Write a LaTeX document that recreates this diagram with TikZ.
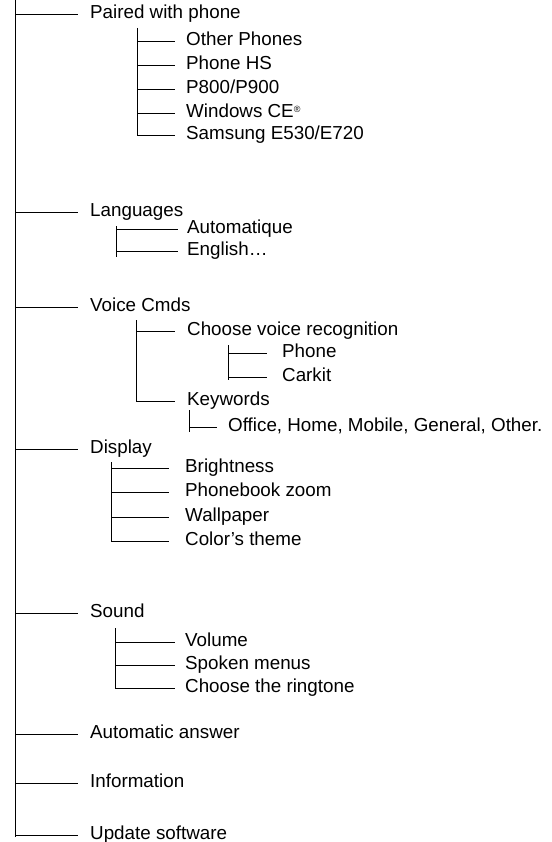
\documentclass[tikz,border=0pt]{standalone}
\usepackage{fontspec}
\setmainfont{Liberation Sans}
\usepackage{tikz}

\begin{document}
\begin{tikzpicture}[x=1pt,y=-1pt,
  item/.style={anchor=west, inner sep=0pt, text height=9pt, text depth=0pt,
               font=\fontsize{18.8}{21}\selectfont},
  wire/.style={line width=0.8pt, black}]
\useasboundingbox (0,0) rectangle (551,842);

% main menu
\coordinate (trunk) at (15.5,0);
\node [item] (paired) at (90,14) {Paired with phone};
\node [item] (languages) at (90,212) {Languages};
\node [item] (voice) at (90,307) {Voice Cmds};
\node [item] (display) at (90,449) {Display};
\node [item] (sound) at (90,613) {Sound};
\node [item] (autoans) at (90,734) {Automatic answer};
\node [item] (info) at (90,783) {Information};
\node [item] (update) at (90,835) {Update software};

\draw [wire] (trunk) -- ([yshift=-2pt]trunk |- update.west);
\foreach \n in {paired,languages,voice,display,sound,autoans,info,update}
  \draw [wire] (trunk |- \n.west) -- ([xshift=-12pt]\n.west);

% paired with phone
\coordinate (pbar) at (137,28);
\node [item] (other) at (186,41) {Other Phones};
\node [item] (phonehs) at (186,65) {Phone HS};
\node [item] (pnine) at (186,89) {P800/P900};
\node [item] (wince) at (186,113) {Windows CE{\fontsize{9}{9}\selectfont\raisebox{5pt}{®}}};
\node [item] (samsung) at (186,135) {Samsung E530/E720};

\draw [wire] (pbar) -- (pbar |- samsung.west);
\foreach \n in {other,phonehs,pnine,wince,samsung}
  \draw [wire] (pbar |- \n.west) -- ([xshift=-11pt]\n.west);

% languages
\coordinate (lbar) at (116,226);
\node [item] (auto) at (187,229) {Automatique};
\node [item] (english) at (187,251) {English…};

\draw [wire] (lbar) -- ([yshift=-6pt]lbar |- english.west);
\foreach \n in {auto,english}
  \draw [wire] (lbar |- \n.west) -- ([xshift=-9pt]\n.west);

% voice commands
\coordinate (vbar) at (136,320);
\node [item] (recog) at (187,331) {Choose voice recognition};
\node [item] (keywords) at (187,401) {Keywords};

\draw [wire] (vbar) -- (vbar |- keywords.west);
\foreach \n in {recog,keywords}
  \draw [wire] (vbar |- \n.west) -- ([xshift=-12pt]\n.west);

\coordinate (rbar) at (228,345);
\node [item] (phone) at (282,353) {Phone};
\node [item] (carkit) at (282,377) {Carkit};

\draw [wire] (rbar) -- ([yshift=-3pt]rbar |- carkit.west);
\foreach \n in {phone,carkit}
  \draw [wire] (rbar |- \n.west) -- ([xshift=-15pt]\n.west);

\coordinate (kbar) at (189,410);
\node [item] (office) at (228,427) {Office, Home, Mobile, General, Other.};

\draw [wire] (kbar) -- ([yshift=-5pt]kbar |- office.west);
\draw [wire] (kbar |- office.west) -- ([xshift=-11pt]office.west);

% display
\coordinate (dbar) at (111,462);
\node [item] (bright) at (185,468) {Brightness};
\node [item] (zoom) at (185,492) {Phonebook zoom};
\node [item] (wall) at (185,517) {Wallpaper};
\node [item] (theme) at (185,541) {Color’s theme};

\draw [wire] (dbar) -- (dbar |- theme.west);
\foreach \n in {bright,zoom,wall,theme}
  \draw [wire] (dbar |- \n.west) -- ([xshift=-16pt]\n.west);

% sound
\coordinate (sbar) at (115,628);
\node [item] (volume) at (185,642) {Volume};
\node [item] (spoken) at (185,665) {Spoken menus};
\node [item] (ring) at (185,688) {Choose the ringtone};

\draw [wire] (sbar) -- (sbar |- ring.west);
\foreach \n in {volume,spoken,ring}
  \draw [wire] (sbar |- \n.west) -- ([xshift=-10pt]\n.west);
\end{tikzpicture}
\end{document}
